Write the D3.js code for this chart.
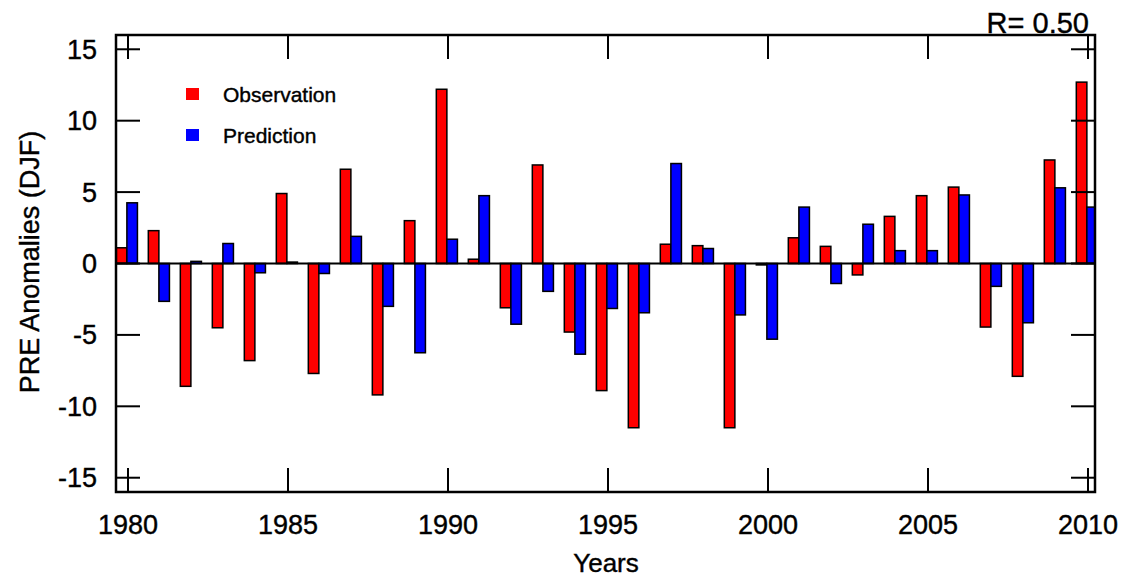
<!DOCTYPE html>
<html>
<head>
  <meta charset="utf-8">
  <script src="https://d3js.org/d3.v7.min.js"></script>
  <style>
    body { margin: 0; background: #fff; }
    text { font-family: "Liberation Sans", Arial, Helvetica, sans-serif; fill: #000; stroke: #000; stroke-width: 0.4px; }
  </style>
</head>
<body>
<script>
  // data
  var years = d3.range(1980, 2011);
  var observation = [1.1, 2.3, -8.6, -4.5, -6.8, 4.9, -7.7, 6.6, -9.2, 3.0,
                     12.2, 0.3, -3.1, 6.9, -4.8, -8.9, -11.5, 1.35, 1.25, -11.5,
                     -0.1, 1.8, 1.2, -0.8, 3.3, 4.75, 5.35, -4.45, -7.9, 7.25, 12.7];
  var prediction = [4.25, -2.65, 0.15, 1.4, -0.65, 0.1, -0.7, 1.9, -3.0, -6.25,
                    1.7, 4.75, -4.25, -1.95, -6.35, -3.15, -3.45, 7.0, 1.05, -3.6,
                    -5.3, 3.95, -1.4, 2.75, 0.9, 0.9, 4.8, -1.6, -4.15, 5.3, 3.95];
  var seriesNames = ["Observation", "Prediction"];
  var seriesColors = ["#ff0000", "#0000ff"];
  var yTicks = [-15, -10, -5, 0, 5, 10, 15];
  var xTicks = [1980, 1985, 1990, 1995, 2000, 2005, 2010];

  var W = 1122, H = 577;
  // plot frame (window.top is reserved, so use other names)
  var pLeft = 116, pRight = 1095, pTop = 35, pBottom = 492;

  var svg = d3.select("body").append("svg")
    .attr("width", W)
    .attr("height", H);

  var x = d3.scaleLinear().domain([1979.625, 2010.219]).range([pLeft, pRight]);
  var y = d3.scaleLinear().domain([-16, 16]).range([pBottom, pTop]);

  svg.append("clipPath").attr("id", "plot")
    .append("rect")
    .attr("x", pLeft).attr("y", pTop)
    .attr("width", pRight - pLeft).attr("height", pBottom - pTop);

  // bars, red to the left of the year, blue to the right
  var barW = 0.33;
  var offsets = [-0.365, -0.035];
  var bars = svg.append("g").attr("clip-path", "url(#plot)");
  [observation, prediction].forEach(function(vals, s) {
    bars.selectAll(".b" + s)
      .data(vals)
      .enter().append("rect")
      .attr("class", "b" + s)
      .attr("x", function(d, i) { return x(years[i] + offsets[s]); })
      .attr("width", x(barW) - x(0))
      .attr("y", function(d) { return y(Math.max(0, d)); })
      .attr("height", function(d) { return Math.abs(y(d) - y(0)); })
      .attr("fill", seriesColors[s])
      .attr("stroke", "#000")
      .attr("stroke-width", 1.5);
  });

  // zero line
  svg.append("line")
    .attr("x1", pLeft).attr("x2", pRight)
    .attr("y1", y(0)).attr("y2", y(0))
    .attr("stroke", "#000").attr("stroke-width", 2);

  // inward ticks on all four sides
  var tl = 24;
  var ticks = svg.append("g").attr("stroke", "#000").attr("stroke-width", 2);
  yTicks.forEach(function(v) {
    ticks.append("line").attr("x1", pLeft).attr("x2", pLeft + tl).attr("y1", y(v)).attr("y2", y(v));
    ticks.append("line").attr("x1", pRight - tl).attr("x2", pRight).attr("y1", y(v)).attr("y2", y(v));
  });
  xTicks.forEach(function(v) {
    ticks.append("line").attr("x1", x(v)).attr("x2", x(v)).attr("y1", pBottom).attr("y2", pBottom - tl);
    ticks.append("line").attr("x1", x(v)).attr("x2", x(v)).attr("y1", pTop).attr("y2", pTop + tl);
  });

  // frame
  svg.append("rect")
    .attr("x", pLeft).attr("y", pTop)
    .attr("width", pRight - pLeft).attr("height", pBottom - pTop)
    .attr("fill", "none").attr("stroke", "#000").attr("stroke-width", 2.5);

  // tick labels
  svg.selectAll(".ylab").data(yTicks).enter().append("text")
    .attr("class", "ylab")
    .attr("x", 97)
    .attr("y", function(d) { return y(d) + 9.5; })
    .attr("text-anchor", "end")
    .style("font-size", "27px")
    .text(function(d) { return d; });

  svg.selectAll(".xlab").data(xTicks).enter().append("text")
    .attr("class", "xlab")
    .attr("x", function(d) { return x(d); })
    .attr("y", 534)
    .attr("text-anchor", "middle")
    .style("font-size", "27px")
    .text(function(d) { return d; });

  // axis titles
  svg.append("text")
    .attr("x", 606).attr("y", 572)
    .attr("text-anchor", "middle")
    .style("font-size", "26px")
    .text("Years");

  svg.append("text")
    .attr("transform", "translate(39,262) rotate(-90)")
    .attr("text-anchor", "middle")
    .style("font-size", "27px")
    .text("PRE Anomalies (DJF)");

  // correlation label
  svg.append("text")
    .attr("x", 1089).attr("y", 33)
    .attr("text-anchor", "end")
    .style("font-size", "29px")
    .text("R= 0.50");

  // legend
  var legend = svg.append("g");
  seriesNames.forEach(function(name, i) {
    legend.append("rect")
      .attr("x", 186).attr("y", 88 + i * 41)
      .attr("width", 13).attr("height", 12)
      .attr("fill", seriesColors[i]);
    legend.append("text")
      .attr("x", 223).attr("y", 101.5 + i * 41.5)
      .style("font-size", "21px")
      .text(name);
  });
</script>
</body>
</html>
